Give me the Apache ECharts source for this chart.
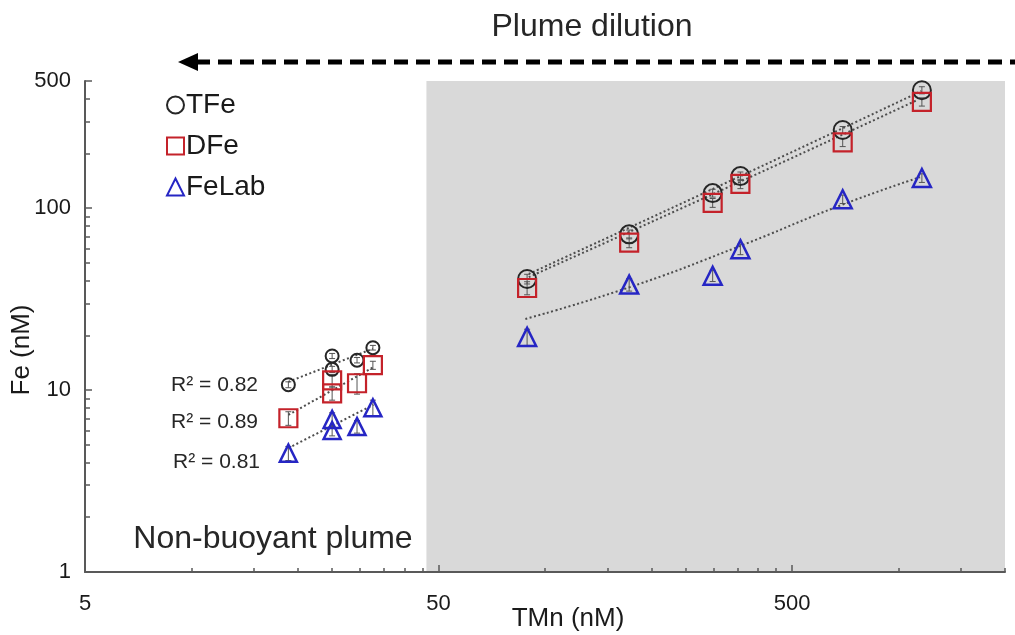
<!DOCTYPE html>
<html>
<head>
<meta charset="utf-8">
<script src="https://cdn.jsdelivr.net/npm/echarts@6/dist/echarts.min.js"></script>
<style>
html,body{margin:0;padding:0;background:#fff;}
#main{width:1015px;height:635px;}
</style>
</head>
<body>
<div id="main"></div>
<script>
// non-buoyant plume samples
var nbTMn = [18.8, 25.0, 25.0, 29.4, 32.6]
var nbTFe = [10.7, 15.4, 13.0, 14.6, 17.1]
var nbDFe = [7.0, 11.3, 9.6, 10.9, 13.7]
var nbFeLab = [4.5, 6.9, 6.0, 6.3, 8.0]
// buoyant plume samples
var bTMn = [89, 173, 298, 357, 695, 1164]
var bTFe = [40.8, 71.8, 121, 150, 269, 445]
var bDFe = [36.4, 64.6, 107, 136, 230, 384]
var bFeLab = [19.6, 38.0, 42.5, 59.5, 112, 146.5]
// error bars (+/-)
var nbTFeErr = [0.4, 0.5, 0.5, 0.5, 0.5]
var nbDFeErr = [0.6, 0.9, 0.8, 1.4, 0.7]
var nbFeLabErr = [0.4, 0.6, 0.4, 0.5, 0.8]
var bTFeErr = [2.5, 4, 6, 8, 12, 20]
var bDFeErr = [3, 4, 6, 8, 12, 20]
var bFeLabErr = [2, 3, 3, 4, 6, 8]
// trend lines [TMn, Fe]
var trendTFeNb = [[18.8, 11.1], [32.6, 16.9]]
var trendDFeNb = [[18.8, 7.3], [32.8, 13.4]]
var trendFeLabNb = [[18.8, 4.8], [32.7, 8.3]]
var trendTFeB = [[90, 43.5], [357, 150], [1160, 440]]
var trendDFeB = [[90, 41.8], [357, 140], [1130, 393]]
var trendFeLabB = [[88, 24.6], [173, 36.7], [347, 60.7], [698, 105], [1150, 148]]
// axes
var xMin = 5, xMax = 2000
var yMin = 1, yMax = 500
var xMajor = [5, 50, 500]
var xMinor = [10, 15, 20, 25, 30, 35, 40, 45, 100, 150, 200, 250, 300, 350, 400, 450, 1000, 1500, 2000]
var yMajor = [1, 10, 100, 500]
var yMinor = [2, 3, 4, 5, 6, 7, 8, 9, 20, 30, 40, 50, 60, 70, 80, 90, 200, 300, 400]
var buoyantStart = 46.2
var r2Labels = ['R² = 0.82', 'R² = 0.89', 'R² = 0.81', 'R² = 1.00', 'R² = 1.00', 'R² = 0.97']

var FONT = 'Liberation Sans, Arial, sans-serif'
var AXIS = '#595959'
var C_TFE = '#262626', C_DFE = '#c4222a', C_LAB = '#2626c4'

function pts(xs, ys){
	return xs.map(function(x, i){ return [x, ys[i]] })
}
function errPts(xs, ys, es){
	return xs.map(function(x, i){ return [x, ys[i] - es[i], ys[i] + es[i]] })
}

function scatter(name, xs, ys, symbol, size, color, bw){
	return {
		name: name, type: 'scatter', symbol: symbol, symbolSize: size, z: 4,
		itemStyle: {color: 'transparent', borderColor: color, borderWidth: bw, opacity: 1},
		data: pts(xs, ys)
	}
}
function trend(data){
	return {
		type: 'line', data: data, symbol: 'none', smooth: data.length > 2, z: 3, silent: true,
		lineStyle: {color: '#4d4d4d', width: 2, type: [2, 2.5]}
	}
}
function errBars(data){
	return {
		type: 'custom', z: 3, silent: true, clip: false,
		renderItem: function(params, api){
			var lo = api.coord([api.value(0), api.value(1)])
			var hi = api.coord([api.value(0), api.value(2)])
			var style = {stroke: '#555', lineWidth: 1}
			return {type: 'group', children: [
				{type: 'line', shape: {x1: lo[0], y1: lo[1], x2: hi[0], y2: hi[1]}, style: style},
				{type: 'line', shape: {x1: lo[0] - 3, y1: lo[1], x2: lo[0] + 3, y2: lo[1]}, style: style},
				{type: 'line', shape: {x1: hi[0] - 3, y1: hi[1], x2: hi[0] + 3, y2: hi[1]}, style: style}
			]}
		},
		data: data
	}
}

var txt = function(x, y, text, size, align){
	return {type: 'text', x: x, y: y, style: {text: text, font: size + 'px ' + FONT, fill: '#262626', align: align || 'center', verticalAlign: 'middle'}}
}

var option = {
	animation: false,
	textStyle: {fontFamily: FONT},
	grid: {left: 85, right: 10, top: 81, bottom: 63, containLabel: false, outerBoundsMode: 'none'},
	legend: {
		data: ['TFe', 'DFe', 'FeLab'],
		orient: 'vertical', left: 161, top: 86, itemGap: 13, itemWidth: 17, itemHeight: 17,
		textStyle: {fontSize: 28, color: '#1a1a1a', fontFamily: FONT, padding: [0, 0, 0, -3]}
	},
	xAxis: [
		{
			type: 'log', min: xMin, max: xMax, z: 10,
			axisLine: {lineStyle: {color: AXIS, width: 2}},
			axisTick: {inside: true, length: 7, lineStyle: {color: AXIS, width: 1.5}, customValues: xMajor},
			axisLabel: {customValues: xMajor, fontSize: 22, color: '#1a1a1a', margin: 21},
			splitLine: {show: false}
		},
		{
			type: 'log', min: xMin, max: xMax, z: 10, position: 'bottom',
			axisLine: {show: false}, axisLabel: {show: false}, splitLine: {show: false},
			axisTick: {inside: true, length: 4, lineStyle: {color: AXIS, width: 1.5}, customValues: xMinor}
		}
	],
	yAxis: [
		{
			type: 'log', min: yMin, max: yMax, z: 10,
			axisLine: {lineStyle: {color: AXIS, width: 2}},
			axisTick: {inside: true, length: 7, lineStyle: {color: AXIS, width: 1.5}, customValues: yMajor},
			axisLabel: {customValues: yMajor, fontSize: 22, color: '#1a1a1a', margin: 14},
			splitLine: {show: false}
		},
		{
			type: 'log', min: yMin, max: yMax, z: 10, position: 'left',
			axisLine: {show: false}, axisLabel: {show: false}, splitLine: {show: false},
			axisTick: {inside: true, length: 5, lineStyle: {color: AXIS, width: 1.5}, customValues: yMinor}
		}
	],
	series: [
		{
			type: 'line', data: [], silent: true, z: 1,
			markArea: {silent: true, itemStyle: {color: '#d9d9d9'},
				data: [[{coord: [buoyantStart, yMin]}, {coord: [xMax, yMax]}]]}
		},
		trend(trendTFeNb), trend(trendDFeNb), trend(trendFeLabNb),
		trend(trendTFeB), trend(trendDFeB), trend(trendFeLabB),
		errBars(errPts(nbTMn, nbTFe, nbTFeErr)), errBars(errPts(nbTMn, nbDFe, nbDFeErr)),
		errBars(errPts(nbTMn, nbFeLab, nbFeLabErr)), errBars(errPts(bTMn, bTFe, bTFeErr)),
		errBars(errPts(bTMn, bDFe, bDFeErr)), errBars(errPts(bTMn, bFeLab, bFeLabErr)),
		scatter('TFe', nbTMn, nbTFe, 'circle', 13, C_TFE, 2),
		scatter('DFe', nbTMn, nbDFe, 'rect', 18, C_DFE, 2.2),
		scatter('FeLab', nbTMn, nbFeLab, 'triangle', 17, C_LAB, 2.5),
		scatter('TFe', bTMn, bTFe, 'circle', 18, C_TFE, 2),
		scatter('DFe', bTMn, bDFe, 'rect', 18, C_DFE, 2.2),
		scatter('FeLab', bTMn, bFeLab, 'triangle', 18, C_LAB, 2.5)
	],
	graphic: [
		txt(592, 27, 'Plume dilution', 32),
		// dashed arrow
		{type: 'line', shape: {x1: 196, y1: 62, x2: 1015, y2: 62}, style: {stroke: '#000', lineWidth: 5, lineDash: [14, 8]}},
		{type: 'polygon', shape: {points: [[178, 62], [198, 53], [198, 71]]}, style: {fill: '#000'}},
		{type: 'text', x: 22, y: 350, rotation: Math.PI / 2,
			style: {text: 'Fe (nM)', font: '26px ' + FONT, fill: '#1a1a1a', align: 'center', verticalAlign: 'middle'}},
		{type: 'text', x: 568, y: 619,
			style: {text: 'TMn (nM)', font: '26px ' + FONT, fill: '#1a1a1a', align: 'center', verticalAlign: 'middle'}},
		txt(273, 539, 'Non-buoyant plume', 32),
		txt(797, 533, 'Buoyant plume', 32),
		txt(258, 385, r2Labels[0], 21, 'right'),
		txt(258, 422, r2Labels[1], 21, 'right'),
		txt(260, 462, r2Labels[2], 21, 'right'),
		txt(798, 101, r2Labels[3], 21),
		txt(921, 135, r2Labels[4], 21),
		txt(877, 234, r2Labels[5], 21)
	]
}

var myChart = echarts.init(document.getElementById('main'))
myChart.setOption(option)
</script>
</body>
</html>
